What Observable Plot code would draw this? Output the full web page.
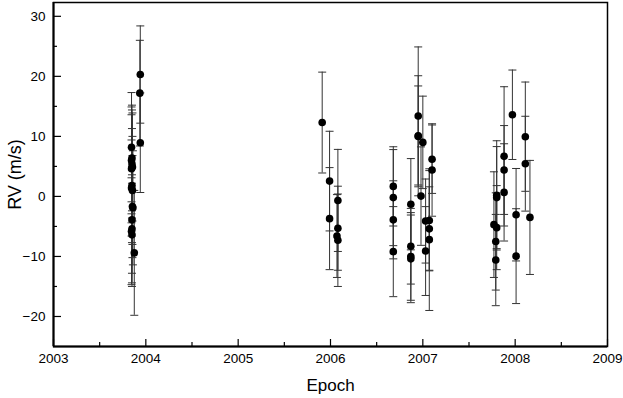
<!DOCTYPE html>
<html><head><meta charset="utf-8">
<script src="https://cdn.jsdelivr.net/npm/d3@7"></script>
<script src="https://cdn.jsdelivr.net/npm/@observablehq/plot@0.6"></script>
<style>body{margin:0;background:#fff}</style>
</head><body><div id="chart"></div>
<script>
// Epoch (years), radial velocity (m/s), 1-sigma error (m/s)
const epoch = [
  2003.94, 2003.935, 2003.94,
  2003.845, 2003.85, 2003.845, 2003.85, 2003.855, 2003.845, 2003.85, 2003.845, 2003.855,
  2003.855, 2003.86, 2003.85, 2003.85, 2003.845, 2003.85, 2003.875,
  2005.91, 2005.99, 2005.99, 2006.08, 2006.08, 2006.07, 2006.08,
  2006.68, 2006.68, 2006.68, 2006.68,
  2006.87, 2006.87, 2006.87, 2006.87,
  2006.95, 2006.95, 2006.95, 2006.98, 2007.00,
  2007.03, 2007.03, 2007.07, 2007.07, 2007.07,
  2007.10, 2007.10,
  2007.80, 2007.80, 2007.77, 2007.80, 2007.79, 2007.79,
  2007.88, 2007.88, 2007.88,
  2007.97, 2008.01, 2008.01,
  2008.11, 2008.11, 2008.16
];
const rv = [
  20.3, 17.2, 8.95,
  8.2, 6.4, 6.0, 5.4, 4.9, 4.6, 1.8, 1.4, 1.0,
  -1.7, -1.9, -3.9, -5.4, -5.8, -6.4, -9.4,
  12.3, 2.55, -3.7, -0.67, -5.3, -6.6, -7.3,
  1.67, -0.2, -3.9, -9.2,
  -1.3, -8.3, -10.0, -10.4,
  13.4, 10.1, 10.0, 0.05, 9.0,
  -4.1, -9.1, -4.0, -5.4, -7.2,
  6.2, 4.4,
  0.17, -0.2, -4.7, -5.2, -7.5, -10.6,
  6.67, 4.4, 0.67,
  13.6, -3.05, -9.95,
  9.95, 5.45, -3.5
];
const err = [
  8.1, 8.8, 8.3,
  9.1, 8.8, 8.9, 9.0, 9.0, 9.0, 9.5, 8.0, 9.0,
  8.5, 9.5, 8.9, 9.0, 8.9, 8.6, 10.4,
  8.4, 8.3, 8.5, 8.5, 7.0, 6.9, 7.7,
  6.6, 8.0, 6.5, 7.5,
  7.6, 6.3, 7.3, 7.3,
  11.5, 10.0, 8.4, 8.2, 7.7,
  7.0, 7.4, 8.3, 7.0, 11.8,
  5.7, 7.7,
  9.1, 8.5, 8.8, 7.0, 8.1, 7.6,
  11.6, 7.4, 8.1,
  7.45, 7.7, 7.9,
  9.1, 7.9, 9.5
];
const xMajor = [2003, 2004, 2005, 2006, 2007, 2008, 2009];
const xMinor = [2003.5, 2004.5, 2005.5, 2006.5, 2007.5, 2008.5];
const yMajor = [-20, -10, 0, 10, 20, 30];
const yMinor = [-15, -5, 5, 15, 25];

const data = epoch.map((e, i) => ({epoch: e, rv: rv[i], err: err[i]}));
const cap = {draw(ctx, size) { const w = Math.sqrt(size / Math.PI); ctx.moveTo(-w, 0); ctx.lineTo(w, 0); }};
const font = "'Liberation Sans', Arial, Helvetica, sans-serif";

const chart = Plot.plot({
  width: 623, height: 398,
  marginLeft: 53, marginRight: 16, marginTop: 2, marginBottom: 52,
  style: {fontFamily: font, fontSize: "13.5px", background: "#fff", color: "#000"},
  x: {domain: [2003, 2009]},
  y: {domain: [-25, 32.3]},
  marks: [
    Plot.ruleX(data, {x: "epoch", y1: d => d.rv - d.err, y2: d => d.rv + d.err, stroke: "#333", strokeWidth: 1}),
    Plot.dot(data, {x: "epoch", y: d => d.rv + d.err, symbol: cap, r: 4, stroke: "#333", strokeWidth: 1, fill: "none"}),
    Plot.dot(data, {x: "epoch", y: d => d.rv - d.err, symbol: cap, r: 4, stroke: "#333", strokeWidth: 1, fill: "none"}),
    Plot.dot(data, {x: "epoch", y: "rv", r: 3.8, fill: "#000", stroke: "none"}),
    Plot.axisX({ticks: xMajor, tickSize: 0, tickPadding: 7, tickFormat: d => String(d), fontSize: 13.5, label: null}),
    Plot.axisX({ticks: xMajor, tickSize: -7, text: null, label: null, strokeWidth: 1.2}),
    Plot.axisX({ticks: xMinor, tickSize: -4, text: null, label: null, strokeWidth: 1.2}),
    Plot.axisY({ticks: yMajor, tickSize: 0, tickPadding: 8, fontSize: 13.5, label: null}),
    Plot.axisY({ticks: yMajor, tickSize: -8, text: null, label: null, strokeWidth: 1.2}),
    Plot.axisY({ticks: yMinor, tickSize: -4, text: null, label: null, strokeWidth: 1.2}),
    Plot.frame({stroke: "#000", strokeWidth: 1.5}),
    Plot.ruleX([2003], {stroke: "#000", strokeWidth: 2}),
    Plot.ruleY([-25], {stroke: "#000", strokeWidth: 2}),
    Plot.text(["Epoch"], {frameAnchor: "bottom", dy: 39, fontSize: 17, textAnchor: "middle", lineAnchor: "middle"}),
    Plot.text(["RV (m/s)"], {frameAnchor: "left", dx: -38, rotate: -90, fontSize: 18, textAnchor: "middle", lineAnchor: "middle"})
  ]
});
document.getElementById("chart").appendChild(chart);
</script>
</body></html>
